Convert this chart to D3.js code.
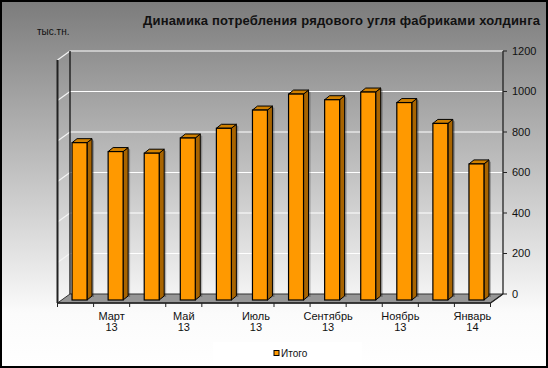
<!DOCTYPE html>
<html><head><meta charset="utf-8">
<script src="https://cdn.jsdelivr.net/npm/d3@7"></script>
<style>body{margin:0;background:#fff}svg{display:block}text{font-family:"Liberation Sans",Arial,sans-serif}</style>
</head><body>
<script>
const categories = ["Февраль 13","Март 13","Апрель 13","Май 13","Июнь 13","Июль 13","Август 13","Сентябрь 13","Октябрь 13","Ноябрь 13","Декабрь 13","Январь 14"];
const values = [777, 733, 725, 800, 848, 938, 1017, 989, 1027, 975, 872, 672];
const yTicks = [0, 200, 400, 600, 800, 1000, 1200];
const seriesName = "Итого";
const title = "Динамика потребления рядового угля фабриками холдинга";
const unitLabel = "тыс.тн.";

const W = 548, H = 368;
const svg = d3.select("body").append("svg").attr("width", W).attr("height", H);
const defs = svg.append("defs");
const bg = defs.append("linearGradient").attr("id","bg").attr("x1",0).attr("y1",0).attr("x2",0).attr("y2",1);
bg.append("stop").attr("offset","0").attr("stop-color","#7b7b7b");
bg.append("stop").attr("offset","0.85").attr("stop-color","#fbfbfb");
bg.append("stop").attr("offset","1").attr("stop-color","#ffffff");
svg.append("rect").attr("x",0).attr("y",0).attr("width",W).attr("height",H).attr("fill","url(#bg)");

// geometry (back wall + depth)
const bx0 = 70, bx1 = 503;
const DX = 12.5, DY = 9;
const y = d3.scaleLinear().domain([0,1200]).range([294,51]);
const x = d3.scaleBand().domain(categories).range([bx0,bx1]).paddingInner(0.585).paddingOuter(0.2925);
const step = x.step();
const fx = v => v - DX; // front-plane x
// bar placement in depth
const barOffX = -8.5, barOffY = 6, barDX = 5, barDY = 4;

// floor
svg.append("path")
  .attr("d", `M${fx(bx0)},${y(0)+DY}L${fx(bx1)},${y(0)+DY}L${bx1},${y(0)}L${bx0},${y(0)}Z`)
  .attr("fill","#969696").attr("stroke","#333").attr("stroke-width",1);

// gridlines
const g = svg.append("g");
yTicks.filter(t => t > 0).forEach(t => {
  g.append("line").attr("x1",bx0).attr("x2",bx1).attr("y1",y(t)).attr("y2",y(t))
    .attr("stroke","#fff").attr("stroke-width",1.2);
  g.append("line").attr("x1",fx(bx0)).attr("y1",y(t)+DY).attr("x2",bx0).attr("y2",y(t))
    .attr("stroke","#f4f4f4").attr("stroke-width",1.2);
});
// walls edges
svg.append("line").attr("x1",bx0).attr("x2",bx0).attr("y1",y(1200)).attr("y2",y(0)).attr("stroke","#111").attr("stroke-width",1.3);
svg.append("line").attr("x1",fx(bx0)).attr("x2",fx(bx0)).attr("y1",y(1200)+DY).attr("y2",y(0)+DY).attr("stroke","#222").attr("stroke-width",2);

// bars
const bars = svg.append("g");
categories.forEach((c,i) => {
  const v = values[i];
  const x0 = x(c) + barOffX, w = x.bandwidth();
  const yt = y(v) + barOffY, yb = y(0) + barOffY;
  // shadow
  bars.append("path")
    .attr("d", `M${x0+w+barDX},${yt-barDY+1}L${x0+w+barDX+2},${yt-barDY+2}L${x0+w+barDX+2},${yb-barDY+1}L${x0+w+barDX},${yb-barDY+1}Z`)
    .attr("fill","#000").attr("opacity",0.25);
  // side
  bars.append("path")
    .attr("d", `M${x0+w},${yt}L${x0+w+barDX},${yt-barDY}L${x0+w+barDX},${yb-barDY}L${x0+w},${yb}Z`)
    .attr("fill","#a86400").attr("stroke","#000").attr("stroke-width",1).attr("stroke-linejoin","round");
  // top
  bars.append("path")
    .attr("d", `M${x0},${yt}L${x0+barDX},${yt-barDY}L${x0+w+barDX},${yt-barDY}L${x0+w},${yt}Z`)
    .attr("fill","#d08000").attr("stroke","#000").attr("stroke-width",1).attr("stroke-linejoin","round");
  // front
  bars.append("rect").attr("x",x0).attr("y",yt).attr("width",w).attr("height",yb-yt)
    .attr("fill","#ff9900").attr("stroke","#000").attr("stroke-width",1.2);
});

// front floor edge / x axis
const yF = y(0) + DY;
svg.append("line").attr("x1",fx(bx0)).attr("x2",fx(bx1)).attr("y1",yF).attr("y2",yF).attr("stroke","#222").attr("stroke-width",1.3);
svg.append("line").attr("x1",fx(bx1)).attr("y1",yF).attr("x2",bx1).attr("y2",y(0)).attr("stroke","#222").attr("stroke-width",1.3);
d3.range(categories.length+1).forEach(i => {
  const xx = fx(bx0) + i*step;
  svg.append("line").attr("x1",xx).attr("x2",xx).attr("y1",yF).attr("y2",yF+4).attr("stroke","#222").attr("stroke-width",1);
});
const xl = svg.append("g").attr("font-size","11px").attr("fill","#111").attr("text-anchor","middle");
categories.forEach((c,i) => {
  if (i % 2 !== 1) return;
  const parts = c.split(" ");
  const cx = fx(x(c) + x.bandwidth()/2);
  const t = xl.append("text").attr("x",cx).attr("y",320);
  t.append("tspan").attr("x",cx).attr("dy",0).text(parts[0]);
  t.append("tspan").attr("x",cx).attr("dy",11).text(parts[1]);
});

// right value axis
svg.append("line").attr("x1",bx1).attr("x2",bx1).attr("y1",y(1200)).attr("y2",y(0)).attr("stroke","#222").attr("stroke-width",1.3);
const ya = svg.append("g").attr("font-size","11px").attr("fill","#111");
yTicks.forEach(t => {
  svg.append("line").attr("x1",bx1).attr("x2",bx1+4).attr("y1",y(t)).attr("y2",y(t)).attr("stroke","#222").attr("stroke-width",1);
  ya.append("text").attr("x",bx1+9).attr("y",y(t)).attr("dy","0.35em").text(t);
});

// title and unit
svg.append("text").attr("x",143).attr("y",25).attr("font-size","13px").attr("font-weight","bold").attr("fill","#111")
  .attr("textLength",397).attr("lengthAdjust","spacing").text(title);
svg.append("text").attr("x",37).attr("y",35).attr("font-size","10px").attr("fill","#111").text(unitLabel);

// legend
svg.append("rect").attr("x",213).attr("y",342).attr("width",149).attr("height",23).attr("fill","#fff");
svg.append("rect").attr("x",274).attr("y",350.5).attr("width",5).attr("height",5).attr("fill","#ff9900").attr("stroke","#000").attr("stroke-width",1);
svg.append("text").attr("x",281).attr("y",357).attr("font-size","10px").attr("fill","#111").text(seriesName);

// border
svg.append("rect").attr("x",1).attr("y",1).attr("width",W-2).attr("height",H-2).attr("fill","none").attr("stroke","#000").attr("stroke-width",2);
</script>
</body></html>
